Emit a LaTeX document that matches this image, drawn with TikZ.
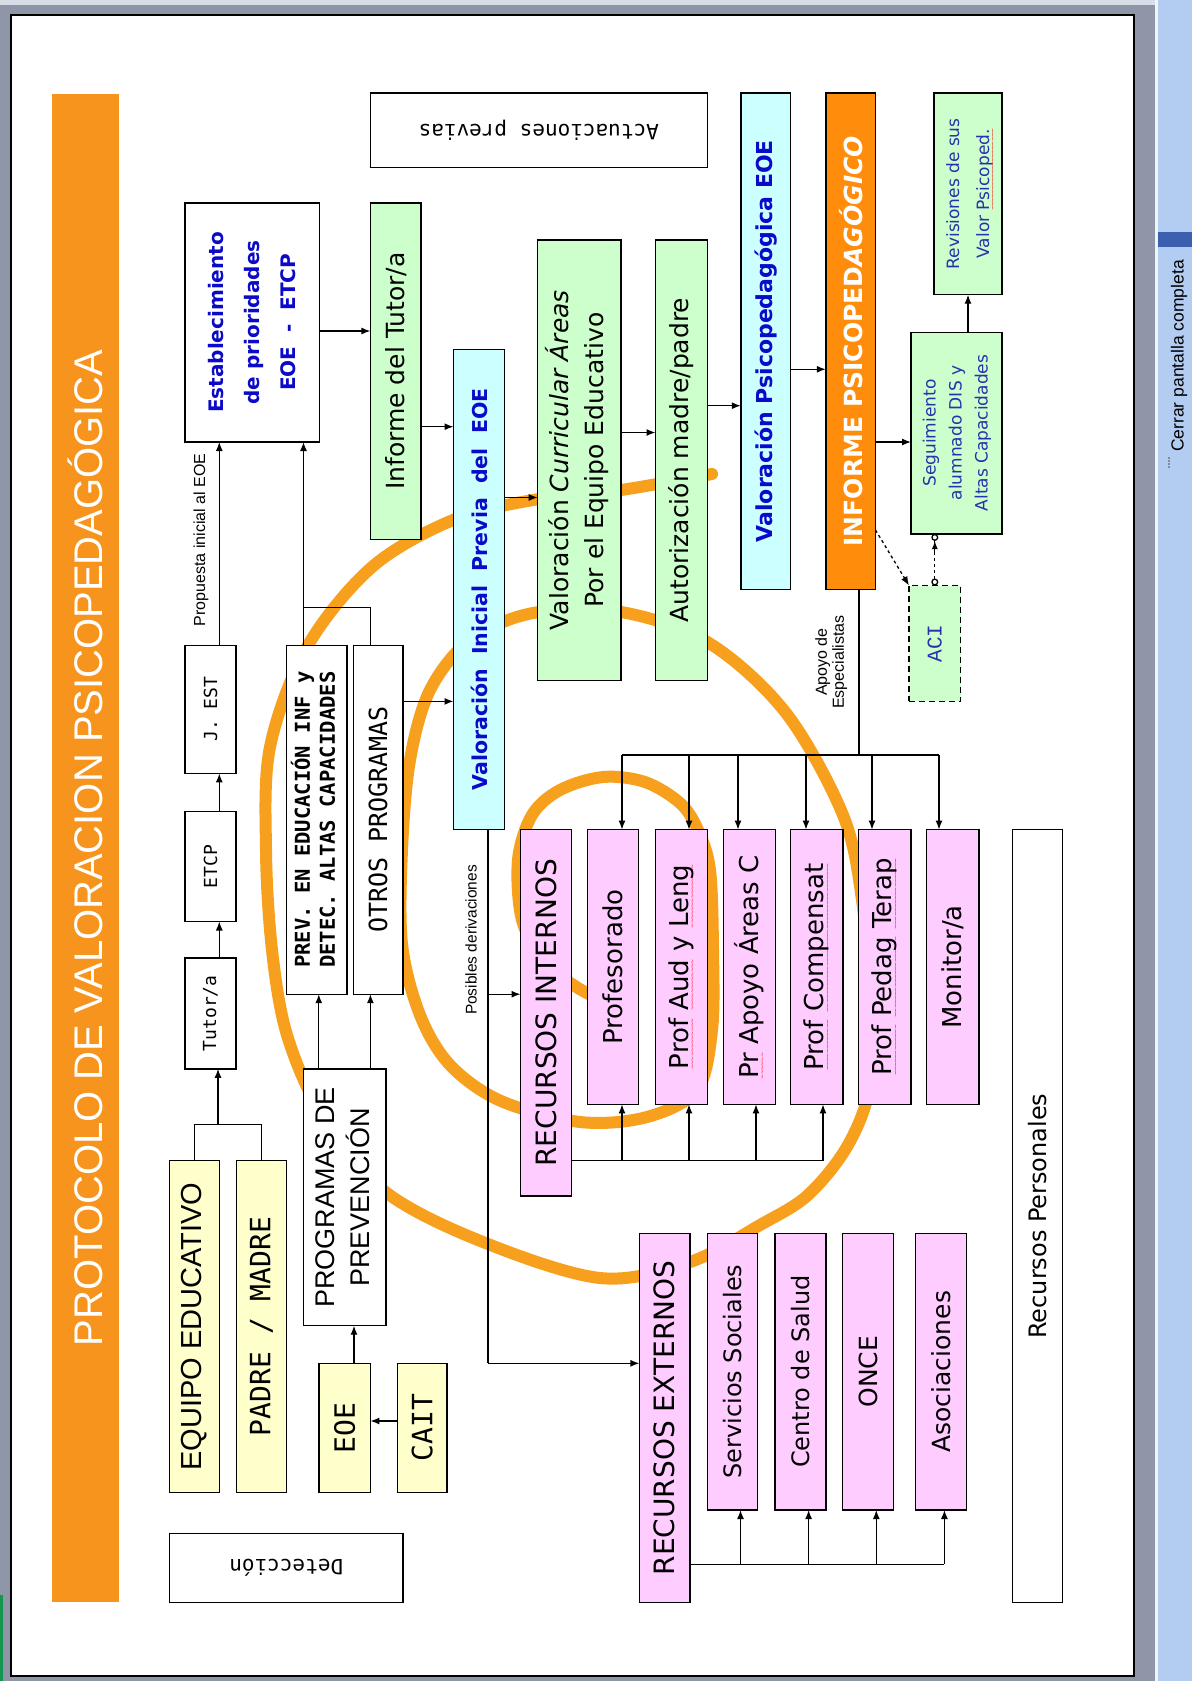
\documentclass[tikz,border=0pt]{standalone}
\usepackage{graphicx}
\usepackage{fontspec}
\usetikzlibrary{arrows.meta}
\setmainfont{DejaVu Sans}
\newfontfamily\arialf{Liberation Sans}
\newfontfamily\monof{DejaVu Sans Mono}
\newfontfamily\courf{Liberation Mono}
\definecolor{orangeT}{RGB}{247,148,29}
\definecolor{orangeS}{RGB}{247,160,30}
\definecolor{orangeI}{RGB}{255,140,10}
\definecolor{cgreen}{RGB}{204,255,204}
\definecolor{ccyan}{RGB}{204,255,255}
\definecolor{cpink}{RGB}{255,204,255}
\definecolor{cyellow}{RGB}{255,255,204}
\definecolor{tblue}{RGB}{10,10,200}
\definecolor{sblue}{RGB}{40,50,170}
\definecolor{framegray}{RGB}{143,150,168}
\definecolor{framelight}{RGB}{215,222,232}
\definecolor{panelblue}{RGB}{178,204,242}
\definecolor{tabblue}{RGB}{60,95,175}
\definecolor{artgreen}{RGB}{20,150,80}
\newsavebox\sqbox
\newcommand\sqw[1]{\sbox\sqbox{#1}\rlap{\raisebox{-5.5pt}[0pt][0pt]{\hbox to \wd\sqbox{\color{red}\fontsize{6}{6}\selectfont\xleaders\hbox{\kern-0.5pt ∼\kern-0.5pt}\hfill}}}\usebox\sqbox}
\newcommand\fs[2]{\fontsize{#1}{#2}\selectfont}
\newcommand\cl[1]{\begin{tabular}{@{}c@{}}#1\end{tabular}}
\newcommand\bx[7][]{\node[bx,#1,minimum width={((#5)-(#3))*1pt},minimum height={((#6)-(#4))*1pt}] (#2) at ({((#3)+(#5))/2},{((#4)+(#6))/2}) {#7};}
\tikzset{
 bx/.style={draw=black,line width=1.4pt,inner sep=0pt,outer sep=0pt},
 grn/.style={fill=cgreen},
 cyn/.style={fill=ccyan},
 pnk/.style={fill=cpink},
 ylw/.style={fill=cyellow},
 wht/.style={fill=white},
 arr/.style={line width=1.3pt,-{Latex[length=9pt,width=7pt]}},
 ln/.style={line width=1.3pt},
 spiral/.style={line width=12pt,draw=orangeS,line cap=round,line join=round},
 lbl/.style={inner sep=0pt,outer sep=0pt},
}
\begin{document}
\begin{tikzpicture}[x=1pt,y=-1pt]
\useasboundingbox (0,0) rectangle (1192,1681);
% frame and screen panel
\fill[framegray] (0,0) rectangle (1192,1681);
\fill[framelight] (0,0) rectangle (1155,5);
\fill[panelblue] (1158,0) rectangle (1192,1681);
\fill[white!80!panelblue] (1155,0) rectangle (1158,1681);
\fill[tabblue] (1158,232) rectangle (1192,247);
\foreach \yy in {458,461,464,467} \fill[black!70] (1169,\yy) circle (0.9pt);
\node[lbl] (cerrar) at (1179,356) {\rotatebox{90}{\arialf\fs{17.5}{20}Cerrar pantalla completa}};
\fill[artgreen] (0,1595) rectangle (2.5,1681);
\fill[white,draw=black,line width=2pt] (10.5,15) rectangle (1134,1676);

% spiral (behind the boxes)
\draw[spiral] plot[smooth,tension=0.55] coordinates {(712,474) (621,490) (533,500) (453,520) (372,567) (307,647) (270,747) (266,850) (272,950) (287,1035) (322,1115) (383,1190) (478,1240) (600,1278) (690,1262) (760,1225) (808,1195) (848,1145) (870,1085) (870,1000) (862,900) (843,815) (786,713) (709,643) (621,612) (533,613) (470,640) (430,690) (410,760) (402,850) (402,944) (420,1015) (450,1065) (501,1101) (580,1122) (647,1117) (697,1090) (712,1030) (713,950) (710,870) (698,830) (680,803) (645,782) (603,777) (560,790) (532,815) (518,860) (522,920) (545,962) (578,988) (612,1005)};

% title
\bx[fill=orangeT,draw=none]{title}{51.7}{93.8}{118.6}{1601.7}{\rotatebox{90}{\arialf\fs{40}{44}\color{white}PROTOCOLO DE VALORACION PSICOPEDAGÓGICA}}
% upside-down labels
\bx[wht]{act}{370.4}{93}{707.2}{167.2}{\rotatebox{180}{\monof\fs{21}{24}Actuaciones previas}}
\bx[wht]{det}{169.5}{1533.3}{403}{1602.7}{\rotatebox{180}{\monof\fs{21}{24}Detección}}
% main row
\bx[wht]{est}{184.8}{202.8}{319.6}{442}{\rotatebox{90}{\fs{20}{36.4}\bfseries\color{tblue}\cl{Establecimiento\\de prioridades\\EOE\ \ -\ \ ETCP}}}
\bx[grn]{inf}{370.4}{202.8}{421}{539.6}{\rotatebox{90}{\fs{25}{30}Informe del Tutor/a}}
\bx[cyn]{vi}{453.5}{349.4}{504.4}{829.6}{\rotatebox{90}{\fs{20.5}{24}\bfseries\color{tblue}Valoración\ \ Inicial\ \ Previa\ \ del\ \ EOE}}
\bx[grn]{vc}{537.7}{240}{621}{680.4}{\rotatebox{90}{\fs{25}{35}\cl{Valoración \textit{Curricular Áreas}\\Por el Equipo Educativo}}}
\bx[grn]{au}{655.5}{240}{707.2}{680.4}{\rotatebox{90}{\fs{25}{30}Autorización madre/padre}}
\bx[cyn]{vp}{740.8}{93}{790.6}{589.4}{\rotatebox{90}{\fs{22}{26}\bfseries\color{tblue}Valoración Psicopedagógica EOE}}
\bx[fill=orangeI]{ip}{825.8}{93}{875.5}{589.4}{\rotatebox{90}{\fs{25}{28}\bfseries\color{white}INFORME PSICOPED\textit{AGÓGICO}}}
\bx[grn]{rev}{934}{93}{1002}{294.7}{\rotatebox{90}{\fs{17}{30}\color{sblue}\cl{Revisiones de sus\\Valor \sqw{Psicoped.}}}}
\bx[grn]{seg}{911}{332.2}{1002}{533.9}{\rotatebox{90}{\fs{17}{26}\color{sblue}\cl{Seguimiento\\alumnado DIS y\\Altas Capacidades}}}
\bx[grn,dashed,dash pattern=on 6pt off 4pt]{aci}{909}{585.5}{960.6}{701.4}{\rotatebox{90}{\courf\fs{21}{24}\color{sblue}ACI}}
% left column
\bx[wht]{jest}{184.8}{645.2}{236.1}{773.4}{\rotatebox{90}{\monof\fs{18}{20}J. EST}}
\bx[wht]{etcp}{184.8}{811.2}{236.1}{921.5}{\rotatebox{90}{\monof\fs{18}{20}ETCP}}
\bx[wht]{tutor}{184.8}{957.8}{236.1}{1068.8}{\rotatebox{90}{\monof\fs{18}{20}Tutor/a}}
\bx[wht]{prev}{286.3}{645.2}{347.1}{994.2}{\rotatebox{90}{\monof\bfseries\fs{20.5}{25}\begin{tabular}{@{}l@{}}PREV. EN EDUCACIÓN INF y\\DETEC. ALTAS CAPACIDADES\end{tabular}}}
\bx[wht]{otros}{353.2}{645.2}{403}{994.2}{\rotatebox{90}{\monof\fs{25}{28}OTROS PROGRAMAS}}
\bx[wht]{prog}{303.5}{1068.8}{385.8}{1325.7}{\rotatebox{90}{\arialf\fs{27}{35}\cl{PROGRAMAS DE\\PREVENCIÓN}}}
\bx[ylw]{eq}{169.5}{1160.6}{219.3}{1492.3}{\rotatebox{90}{\arialf\fs{29}{32}EQUIPO EDUCATIVO}}
\bx[ylw]{pm}{236.5}{1160.6}{286.3}{1492.3}{\rotatebox{90}{\monof\fs{28}{30}PADRE / MADRE}}
\bx[ylw]{eoe}{318.8}{1363.3}{370.4}{1492.3}{\rotatebox{90}{\monof\fs{28}{30}EOE}}
\bx[ylw]{cait}{397.2}{1363.3}{447}{1492.3}{\rotatebox{90}{\monof\fs{28}{30}CAIT}}
% internal resources
\bx[pnk]{ri}{520.5}{829.6}{571.4}{1196}{\rotatebox{90}{\fs{28}{30}RECURSOS INTERNOS}}
\bx[pnk]{prof}{587.4}{829.6}{638.3}{1104.4}{\rotatebox{90}{\fs{26}{30}Profesorado}}
\bx[pnk]{aud}{655.5}{829.6}{707.2}{1104.4}{\rotatebox{90}{\fs{26}{30}\sqw{Prof} \sqw{Aud} y \sqw{Leng}}}
\bx[pnk]{apoyo}{723.2}{829.6}{775.3}{1104.4}{\rotatebox{90}{\fs{26}{30}\sqw{Pr} Apoyo Áreas C}}
\bx[pnk]{comp}{790.6}{829.6}{843}{1104.4}{\rotatebox{90}{\fs{26}{30}\sqw{Prof} \sqw{Compensat}}}
\bx[pnk]{pedag}{858.7}{829.6}{910.8}{1104.4}{\rotatebox{90}{\fs{26}{30}\sqw{Prof} \sqw{Pedag} \sqw{Terap}}}
\bx[pnk]{mon}{926.4}{829.6}{978.9}{1104.4}{\rotatebox{90}{\fs{26}{30}Monitor/a}}
\bx[wht]{rp}{1012.2}{829.6}{1062.3}{1602.7}{\rotatebox{90}{\fs{24}{28}Recursos Personales}}
% external resources
\bx[pnk]{re}{639.4}{1233.3}{689.9}{1602.7}{\rotatebox{90}{\fs{28}{30}RECURSOS EXTERNOS}}
\bx[pnk]{serv}{707.2}{1233.3}{757.7}{1510}{\rotatebox{90}{\fs{24}{28}Servicios Sociales}}
\bx[pnk]{centro}{774.9}{1233.3}{825.8}{1510}{\rotatebox{90}{\fs{24}{28}Centro de Salud}}
\bx[pnk]{once}{842.6}{1233.3}{893.5}{1510}{\rotatebox{90}{\fs{25}{28}ONCE}}
\bx[pnk]{asoc}{915.7}{1233.3}{966.2}{1510}{\rotatebox{90}{\fs{25}{28}Asociaciones}}

% helper levels
\coordinate (yA) at (0,331); \coordinate (yB) at (0,426.7); \coordinate (yC) at (0,497.5);
\coordinate (yD) at (0,432.5); \coordinate (yE) at (0,405.7); \coordinate (yF) at (0,369.3);
\coordinate (yG) at (0,442); \coordinate (yH) at (0,530);
\coordinate (yAt) at (0,552); \coordinate (yAh) at (0,541);
\coordinate (xJ) at (219.3,0); \coordinate (xJt) at (218,0); \coordinate (yBr) at (0,1124.3);
\coordinate (xP0) at (303.5,0); \coordinate (xP1) at (318.8,0); \coordinate (xP2) at (370.4,0);
\coordinate (yPb) at (0,607.7); \coordinate (xE) at (354,0); \coordinate (yCa) at (0,1421);
\coordinate (yO) at (0,701.4); \coordinate (xV) at (488,0); \coordinate (yR) at (0,1363.3);
\coordinate (yRI) at (0,994.2); \coordinate (xI) at (859,0); \coordinate (yTB) at (0,755);
\coordinate (xT1) at (622,0); \coordinate (xT2) at (689,0); \coordinate (xT3) at (738,0);
\coordinate (xT4) at (806,0); \coordinate (xT5) at (872,0); \coordinate (xT6) at (939,0);
\coordinate (yBB) at (0,1160.6); \coordinate (xB3) at (756,0); \coordinate (xB4) at (823,0);
\coordinate (yEB) at (0,1564.3); \coordinate (xX1) at (740.5,0); \coordinate (xX2) at (808.6,0);
\coordinate (xX3) at (876.3,0); \coordinate (xX4) at (944.4,0);

% main chain
\draw[arr] (est.east |- yA) -- (inf.west |- yA);
\draw[arr] (inf.east |- yB) -- (vi.west |- yB);
\draw[arr] (vi.east |- yC) -- (vc.west |- yC);
\draw[arr] (vc.east |- yD) -- (au.west |- yD);
\draw[arr] (au.east |- yE) -- (vp.west |- yE);
\draw[arr] (vp.east |- yF) -- (ip.west |- yF);
\draw[arr] (ip.east |- yG) -- (seg.west |- yG);
\draw[arr] (seg.north -| rev) -- (rev.south);
\draw[arr,dashed] (ip.east |- yH) -- (aci.north west);
\draw[ln,dashed,{Circle[open,length=7pt]}-{Circle[open,length=7pt]}] (aci.north) -- (aci.north |- seg.south);
\draw[line width=1.3pt,-{Latex[length=8pt,width=6pt]}] (aci.north |- yAt) -- (aci.north |- yAh);
% tutor column
\draw[arr] (tutor.north -| xJ) -- (etcp.south -| xJ);
\draw[arr] (etcp.north -| xJ) -- (jest.south -| xJ);
\draw[arr] (jest.north -| xJ) -- (est.south -| xJ);
\node[lbl] (lprop) at (201,540) {\rotatebox{90}{\arialf\fs{16}{18}Propuesta inicial al EOE}};
\draw[ln] (eq.north) -- (eq.north |- yBr) -- (pm.north |- yBr) -- (pm.north);
\draw[arr] (yBr -| xJt) -- (tutor.south -| xJt);
% prevention programmes
\draw[arr] (prog.north -| xP1) -- (prev.south -| xP1);
\draw[arr] (prog.north -| xP2) -- (otros.south -| xP2);
\draw[ln] (prev.north -| xP0) -- (yPb -| xP0) -- (yPb -| xP2) -- (otros.north -| xP2);
\draw[arr] (yPb -| xP0) -- (est.south -| xP0);
\draw[arr] (eoe.north -| xE) -- (prog.south -| xE);
\draw[arr] (cait.west |- yCa) -- (eoe.east |- yCa);
\draw[arr] (otros.east |- yO) -- (vi.west |- yO);
% possible referrals
\draw[ln] (vi.south -| xV) -- (yR -| xV);
\draw[arr] (yR -| xV) -- (re.west |- yR);
\draw[arr] (yRI -| xV) -- (ri.west |- yRI);
\node[lbl] (lpos) at (471,940) {\rotatebox{90}{\arialf\fs{15.5}{17}Posibles derivaciones}};
% specialists
\draw[ln] (ip.south -| xI) -- (yTB -| xI);
\draw[ln] (yTB -| xT1) -- (yTB -| xT6);
\draw[arr] (yTB -| xT1) -- (prof.north -| xT1);
\draw[arr] (yTB -| xT2) -- (aud.north -| xT2);
\draw[arr] (yTB -| xT3) -- (apoyo.north -| xT3);
\draw[arr] (yTB -| xT4) -- (comp.north -| xT4);
\draw[arr] (yTB -| xT5) -- (pedag.north -| xT5);
\draw[arr] (yTB -| xT6) -- (mon.north -| xT6);
\node[lbl] (lapo) at (832,662) {\rotatebox{90}{\arialf\fs{16}{17}\cl{Apoyo de\\Especialistas}}};
% internal bus
\draw[ln] (ri.east |- yBB) -- (yBB -| xB4);
\draw[arr] (yBB -| xT1) -- (prof.south -| xT1);
\draw[arr] (yBB -| xT2) -- (aud.south -| xT2);
\draw[arr] (yBB -| xB3) -- (apoyo.south -| xB3);
\draw[arr] (yBB -| xB4) -- (comp.south -| xB4);
% external bus
\draw[ln] (re.east |- yEB) -- (yEB -| xX4);
\draw[arr] (yEB -| xX1) -- (serv.south -| xX1);
\draw[arr] (yEB -| xX2) -- (centro.south -| xX2);
\draw[arr] (yEB -| xX3) -- (once.south -| xX3);
\draw[arr] (yEB -| xX4) -- (asoc.south -| xX4);
\end{tikzpicture}
\end{document}
